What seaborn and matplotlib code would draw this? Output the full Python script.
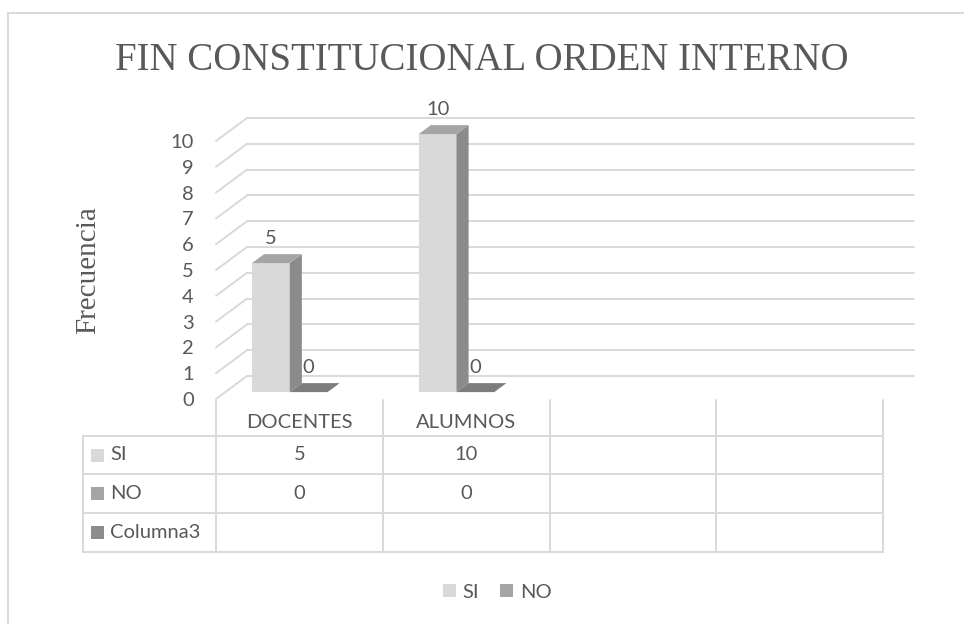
from __future__ import annotations

import matplotlib

matplotlib.use("Agg")
import matplotlib.pyplot as plt
import matplotlib.transforms as mtransforms
from matplotlib.lines import Line2D
from matplotlib.patches import Polygon, Rectangle
import numpy as np
import pandas as pd
import seaborn as sns


TITLE = "FIN CONSTITUCIONAL ORDEN INTERNO"
Y_LABEL = "Frecuencia"
CATEGORIES = ["DOCENTES", "ALUMNOS", " ", "  "]
SERIES = ["SI", "NO", "Columna3"]
SI_VALUES = [5, 10, np.nan, np.nan]
NO_VALUES = [0, 0, np.nan, np.nan]
COL3_VALUES = [np.nan, np.nan, np.nan, np.nan]
Y_TICKS = list(range(0, 11))
LEGEND_SERIES = ["SI", "NO"]

COLORS = {"SI": "#D9D9D9", "NO": "#A5A5A5", "Columna3": "#8C8C8C"}
TEXT = "#595959"
GRID = "#D9D9D9"
SANS = ["Lato", "DejaVu Sans"]
SERIF = ["Liberation Serif", "DejaVu Serif"]
FS = 14.5

W, H = 964, 624
DX, DY = 31, 23          # depth of the 3d box, pixels
BAR_D0, BAR_D1 = 0.30, 0.69


def shade(color: str, k: float) -> tuple:
    r, g, b = matplotlib.colors.to_rgb(color)
    return (r * k, g * k, b * k)


def px(x: float, y_img: float) -> tuple:
    return x / W, 1 - y_img / H


def main() -> None:
    sns.set_style("white")
    plt.rcParams["font.family"] = SANS

    df = pd.DataFrame(
        {
            "categoria": CATEGORIES * 3,
            "serie": ["SI"] * 4 + ["NO"] * 4 + ["Columna3"] * 4,
            "valor": SI_VALUES + NO_VALUES + COL3_VALUES,
        }
    )

    fig = plt.figure(figsize=(W / 100, H / 100), dpi=100)
    fig.patch.set_facecolor("white")
    left, right, bottom, top = 216, 883, 399, 141
    ax = fig.add_axes([left / W, 1 - bottom / H, (right - left) / W, (bottom - top) / H])
    ax.patch.set_alpha(0)

    sns.barplot(
        data=df, x="categoria", y="valor", hue="serie",
        order=CATEGORIES, hue_order=SERIES, palette=COLORS,
        width=0.68, errorbar=None, legend=False, ax=ax, linewidth=0,
    )
    ax.set_xlim(-0.5, len(CATEGORIES) - 0.5)
    ax.set_ylim(0, 10)
    for s in ax.spines.values():
        s.set_visible(False)
    ax.set_xticks([])
    ax.set_yticks(Y_TICKS)
    ax.tick_params(axis="y", length=0, pad=16, labelsize=FS, labelcolor=TEXT)
    ax.set_xlabel("")
    ax.set_ylabel(Y_LABEL, fontsize=21, color=TEXT, family=SERIF)
    ax.yaxis.set_label_coords(-0.172, 0.5)

    def offset(d: float):
        return mtransforms.ScaledTranslation(d * DX / 100, d * DY / 100, fig.dpi_scale_trans)

    def proj(x: float, v: float, d: float) -> tuple:
        X, Y = ax.transData.transform((x, v))
        return X + d * DX, Y + d * DY

    ident = mtransforms.IdentityTransform()
    x_lo, x_hi = ax.get_xlim()

    # back wall gridlines and the diagonals on the side wall
    for v in Y_TICKS:
        ax.add_line(Line2D([x_lo, x_hi], [v, v], transform=ax.transData + offset(1.0),
                           color=GRID, lw=1.4, zorder=0.5, clip_on=False))
        p0, p1 = proj(x_lo, v, 0), proj(x_lo, v, 1)
        ax.add_line(Line2D([p0[0], p1[0]], [p0[1], p1[1]], transform=ident,
                           color=GRID, lw=1.4, zorder=0.5, clip_on=False))

    # bars: front face from seaborn, top and side faces from the same patches
    bars = [p for p in ax.patches if np.isfinite(p.get_height())]
    for p in bars:
        x0, w, h = p.get_x(), p.get_width(), p.get_height()
        x1 = x0 + w
        col = p.get_facecolor()
        p.set_transform(ax.transData + offset(BAR_D0))
        p.set_clip_on(False)
        p.set_zorder(1)
        top_face = [proj(x0, h, BAR_D0), proj(x1, h, BAR_D0), proj(x1, h, BAR_D1), proj(x0, h, BAR_D1)]
        side_face = [proj(x1, 0, BAR_D0), proj(x1, h, BAR_D0), proj(x1, h, BAR_D1), proj(x1, 0, BAR_D1)]
        ax.add_patch(Polygon(side_face, closed=True, transform=ident, facecolor=shade(col, 0.64),
                             edgecolor="none", zorder=1.1, clip_on=False))
        ax.add_patch(Polygon(top_face, closed=True, transform=ident, facecolor=shade(col, 0.76),
                             edgecolor="none", zorder=1.2, clip_on=False))
        ax.annotate(
            f"{h:g}", xy=(x0 + w / 2, h), xycoords=ax.transData + offset(BAR_D0),
            xytext=(0, 18), textcoords="offset points", ha="center", va="center",
            fontsize=FS, color=TEXT, annotation_clip=False,
        )

    # data table
    col_edges = [ax.transData.transform((x, 0))[0] for x in np.arange(-0.5, len(CATEGORIES), 1.0)]
    tbl_left = 83
    header_top, row_lines = 400, [436, 474, 513, 552]
    line_kw = dict(color=GRID, lw=1.4, transform=fig.transFigure)
    for xe in col_edges:
        fig.add_artist(Line2D([px(xe, 0)[0]] * 2, [px(0, header_top)[1], px(0, row_lines[-1])[1]], **line_kw))
    fig.add_artist(Line2D([px(tbl_left, 0)[0]] * 2, [px(0, row_lines[0])[1], px(0, row_lines[-1])[1]], **line_kw))
    for yl in row_lines:
        fig.add_artist(Line2D([px(tbl_left, 0)[0], px(col_edges[-1], 0)[0]], [px(0, yl)[1]] * 2, **line_kw))

    centers = [(a + b) / 2 for a, b in zip(col_edges[:-1], col_edges[1:])]
    header_y = (header_top + row_lines[0]) / 2 + 4
    for c, name in zip(centers, CATEGORIES):
        fig.text(*px(c, header_y), name.strip(), ha="center", va="center", fontsize=FS, color=TEXT)

    table_rows = [("SI", SI_VALUES), ("NO", NO_VALUES), ("Columna3", COL3_VALUES)]
    for i, (name, vals) in enumerate(table_rows):
        yc = (row_lines[i] + row_lines[i + 1]) / 2
        fig.add_artist(Rectangle(px(91, yc + 6.5), 13 / W, 13 / H, transform=fig.transFigure,
                                 facecolor=COLORS[name], edgecolor="none"))
        fig.text(*px(110, yc), name, ha="left", va="center", fontsize=FS, color=TEXT)
        for c, v in zip(centers, vals):
            if np.isfinite(v):
                fig.text(*px(c, yc), f"{v:g}", ha="center", va="center", fontsize=FS, color=TEXT)

    # legend
    handles = [Rectangle((0, 0), 1, 1, facecolor=COLORS[s], edgecolor="none") for s in LEGEND_SERIES]
    fig.legend(
        handles, LEGEND_SERIES, loc="center", bbox_to_anchor=px(497, 592), ncol=2,
        frameon=False, fontsize=FS, labelcolor=TEXT, handlelength=0.65, handleheight=0.65,
        handletextpad=0.35, columnspacing=1.0,
    )

    fig.text(*px(W / 2, 60), TITLE, ha="center", va="center", fontsize=28, color=TEXT, family=SERIF)

    # chart border (only top and left edges are inside the picture)
    fig.add_artist(Line2D([px(8, 0)[0], 1], [px(0, 13)[1]] * 2, **line_kw))
    fig.add_artist(Line2D([px(8, 0)[0]] * 2, [px(0, 13)[1], 0], **line_kw))

    fig.savefig("out.png", dpi=100)
    plt.close(fig)


if __name__ == "__main__":
    main()
